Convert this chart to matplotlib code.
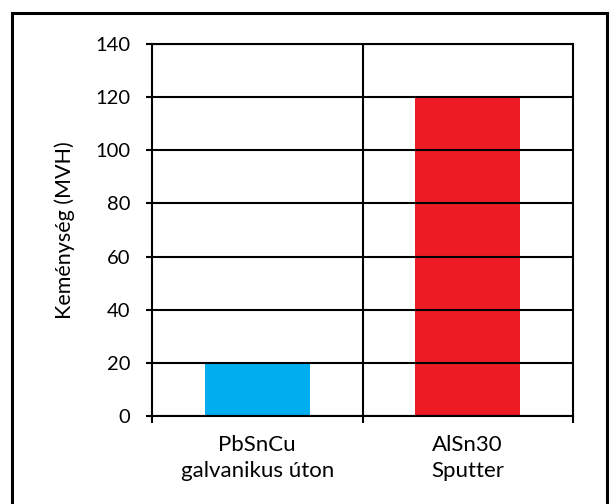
import matplotlib
matplotlib.use("Agg")
import matplotlib.pyplot as plt
from matplotlib.patches import Rectangle

categories = ["PbSnCu\ngalvanikus úton", "AlSn30\nSputter"]
hardness = [20, 120]
bar_colors = ["#00AEEF", "#ED1C24"]
y_ticks = [0, 20, 40, 60, 80, 100, 120, 140]

plt.rcParams["font.family"] = ["Lato", "DejaVu Sans"]

fig = plt.figure(figsize=(6.12, 5.04), dpi=100)
ax = fig.add_axes([152 / 612, 1 - 416 / 504, 421 / 612, 372 / 504])

x = list(range(len(categories)))
ax.bar(x, hardness, width=0.5, color=bar_colors, zorder=1)

ax.set_xlim(-0.5, len(categories) - 0.5)
ax.set_ylim(0, 140)
ax.set_yticks(y_ticks)
ax.set_yticklabels([str(v) for v in y_ticks], fontsize=14.5)

# category labels sit between the dividing ticks
ax.set_xticks([i - 0.5 for i in range(len(categories) + 1)])
ax.set_xticklabels([])
ax.set_xticks(x, minor=True)
ax.set_xticklabels(categories, minor=True, fontsize=16, linespacing=1.35)
ax.tick_params(axis="x", which="minor", length=0, pad=14)
ax.tick_params(axis="x", which="major", length=5, width=1.5, direction="out")
ax.tick_params(axis="y", length=4.5, width=1.5, direction="out", pad=11)

ax.grid(axis="y", color="black", linewidth=1.5, zorder=2)
ax.set_axisbelow(False)
ax.axvline(0.5, color="black", linewidth=1.5, zorder=2)
for s in ax.spines.values():
    s.set_linewidth(1.5)

ax.set_ylabel("Keménység (MVH)", fontsize=15.5, labelpad=15)

fig.patches.append(Rectangle((12 / 612, -0.05), 595 / 612, 1 - 13 / 504 + 0.05,
                             transform=fig.transFigure, fill=False,
                             edgecolor="black", linewidth=2.2))

fig.savefig("out.png", dpi=100)
